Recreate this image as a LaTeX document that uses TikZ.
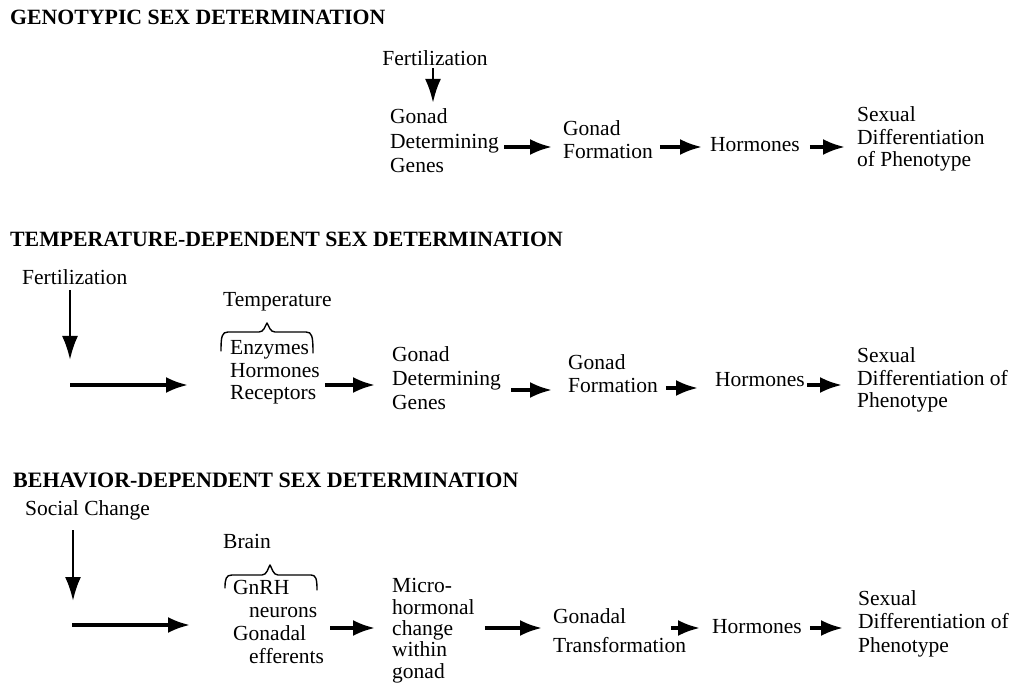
\documentclass[tikz,border=0pt]{standalone}
\usepackage{fontspec}
\setmainfont{Liberation Serif}
\usetikzlibrary{arrows.meta}
\begin{document}
\begin{tikzpicture}[x=1pt,y=-1pt,
  txt/.style={inner sep=0pt, font=\fontsize{21.5}{23.5}\selectfont, align=left, anchor=base west},
  ttl/.style={inner sep=0pt, font=\fontsize{21.8}{24}\selectfont\bfseries, anchor=base west},
  arr/.style={line width=3.4pt, -{Latex[length=22pt,width=16pt]}},
  varr/.style={line width=2.6pt, -{Latex[length=24pt,width=16pt]}},
  bracestyle/.style={line width=1.4pt, line cap=round, line join=round}]
\useasboundingbox (0,0) rectangle (1034,684);

% ---------------- Row 1 ----------------
\node[ttl] (t1) at (10,25) {GENOTYPIC SEX DETERMINATION};
\node[txt, anchor=base] (f1) at (435,66) {Fertilization};
\node[txt, font=\fontsize{21.5}{24.5}\selectfont] (gdg1) at (390,173) {Gonad\\Determining\\Genes};
\node[txt] (gf1) at (563,159) {Gonad\\Formation};
\node[txt] (h1) at (710,152) {Hormones};
\node[txt, font=\fontsize{21.5}{22.5}\selectfont] (s1) at (857,167) {Sexual\\Differentiation\\of Phenotype};
\coordinate (r1) at (0,147);
\draw[varr] ([xshift=-2pt,yshift=-2pt]f1.south) -- ([xshift=-2pt,yshift=6pt]f1.south |- gdg1.north);
\draw[arr] ([xshift=5pt]gdg1.east |- r1) -- ([xshift=-11pt]gf1.west |- r1);
\draw[arr] ([xshift=7pt]gf1.east |- r1) -- ([xshift=-8pt]h1.west |- r1);
\draw[arr] ([xshift=10pt]h1.east |- r1) -- ([xshift=-12pt]s1.west |- r1);

% ---------------- Row 2 ----------------
\node[ttl] (t2) at (10,247) {TEMPERATURE-DEPENDENT SEX DETERMINATION};
\node[txt] (f2) at (22,285) {Fertilization};
\coordinate (v2s) at (70,290);
\coordinate (v2e) at (70,360);
\coordinate (h2s) at (70,385);
\node[txt] (temp) at (223,307) {Temperature};
\node[txt, font=\fontsize{21.5}{22.5}\selectfont] (ehr) at (230,400) {Enzymes\\Hormones\\Receptors};
\node[txt, font=\fontsize{21.5}{24}\selectfont] (gdg2) at (392,410) {Gonad\\Determining\\Genes};
\node[txt] (gf2) at (568,393) {Gonad\\Formation};
\node[txt] (h2) at (715,387) {Hormones};
\node[txt, font=\fontsize{21.5}{22.5}\selectfont] (s2) at (857,408) {Sexual\\Differentiation of\\Phenotype};
\draw[varr] (v2s) -- (v2e);
\draw[arr] (h2s) -- ([xshift=-42pt]ehr.west |- h2s);
\draw[bracestyle] (221,351) .. controls (221,336) and (222,332) .. (228,332) -- (259,332)
  .. controls (264,332) and (265,326) .. (267,323) .. controls (269,326) and (270,332) .. (275,332)
  -- (306,332) .. controls (312,332) and (313,336) .. (313,353);
\coordinate (r2a) at (0,385);
\coordinate (r2b) at (0,390);
\coordinate (r2c) at (0,388);
\draw[arr] ([xshift=5pt]ehr.east |- r2a) -- ([xshift=-17pt]gdg2.west |- r2a);
\draw[arr] ([xshift=10pt]gdg2.east |- r2b) -- ([xshift=-16pt]gf2.west |- r2b);
\draw[arr] ([xshift=8pt]gf2.east |- r2c) -- ([xshift=-17pt]h2.west |- r2c);
\draw[arr] ([xshift=2pt]h2.east |- r2a) -- ([xshift=-15pt]s2.west |- r2a);

% ---------------- Row 3 ----------------
\node[ttl, font=\fontsize{22}{24}\selectfont\bfseries] (t3) at (13,487) {BEHAVIOR-DEPENDENT SEX DETERMINATION};
\node[txt] (sc) at (25,515) {Social Change};
\coordinate (v3s) at (73,530);
\coordinate (v3e) at (73,601);
\coordinate (h3s) at (72,625);
\node[txt] (brain) at (223,548) {Brain};
\node[txt, font=\fontsize{21.5}{22.7}\selectfont] (gnrh) at (233,663) {GnRH\\\hspace*{16pt}neurons\\Gonadal\\\hspace*{16pt}efferents};
\node[txt, font=\fontsize{21.5}{21.3}\selectfont] (micro) at (392,678) {Micro-\\hormonal\\change\\within\\gonad};
\node[txt, font=\fontsize{21.5}{29}\selectfont] (gt) at (553,652) {Gonadal\\Transformation};
\node[txt] (h3) at (712,633) {Hormones};
\node[txt, font=\fontsize{21.5}{23.5}\selectfont] (s3) at (858,652) {Sexual\\Differentiation of\\Phenotype};
\draw[varr] (v3s) -- (v3e);
\draw[arr] (h3s) -- ([xshift=-43pt]gnrh.west |- h3s);
\draw[bracestyle] (225,588) .. controls (225,579) and (226,575) .. (232,575) -- (262,575)
  .. controls (267,575) and (268,568) .. (270,565) .. controls (272,568) and (273,575) .. (278,575)
  -- (311,575) .. controls (316,575) and (317,579) .. (317,590);
\coordinate (r3) at (0,628);
\draw[arr] ([xshift=6pt]gnrh.east |- r3) -- ([xshift=-17pt]micro.west |- r3);
\draw[arr] ([xshift=10pt]micro.east |- r3) -- ([xshift=-11pt]gt.west |- r3);
\draw[arr] ([xshift=-15pt]gt.east |- r3) -- ([xshift=-12pt]h3.west |- r3);
\draw[arr] ([xshift=8pt]h3.east |- r3) -- ([xshift=-15pt]s3.west |- r3);
\end{tikzpicture}
\end{document}
